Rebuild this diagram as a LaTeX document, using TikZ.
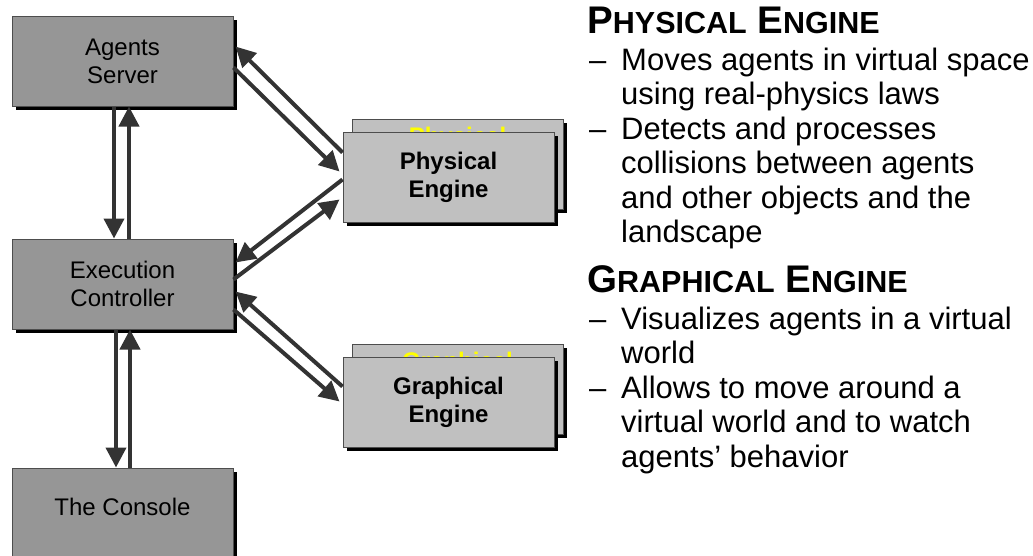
\documentclass[tikz,border=0pt]{standalone}
\usepackage{fontspec}
\setmainfont{Liberation Sans}
\usetikzlibrary{arrows.meta,shadows,calc}
\definecolor{boxgray}{HTML}{969696}
\definecolor{enggray}{HTML}{C0C0C0}
\definecolor{edgegray}{HTML}{4D4D4D}
\definecolor{arrowgray}{HTML}{333333}
\definecolor{hidyellow}{HTML}{FFFF00}
\newcommand\hsmall[1]{{\fontsize{30.5}{34}\selectfont #1}}
\begin{document}
\begin{tikzpicture}[x=1pt,y=-1pt,
  shadowed/.style={drop shadow={shadow xshift=4pt,shadow yshift=-4pt,fill=black,opacity=1}},
  box/.style={shadowed,draw=edgegray,line width=1pt,fill=boxgray,minimum width=221pt,minimum height=90pt,inner sep=0pt,align=center,font=\fontsize{24}{28}\selectfont},
  engbox/.style={box,fill=enggray,minimum width=211pt,font=\fontsize{24}{28}\selectfont\bfseries},
  hidtxt/.style={anchor=north,inner sep=0pt,align=center,text=hidyellow,font=\fontsize{24}{28}\selectfont\bfseries},
  conn/.style={draw=arrowgray,line width=4pt,-{Triangle[length=20pt,width=20pt]},fill=arrowgray},
  head/.style={anchor=base west,inner sep=0pt,font=\fontsize{38.5}{40}\selectfont\bfseries},
  rtxt/.style={anchor=base west,inner sep=0pt,font=\fontsize{31}{34.5}\selectfont}]
\useasboundingbox (0,0) rectangle (1033,555);
\clip (0,0) rectangle (1033,555);

% left column boxes
\node[box] (as) at (122.5,61) {Agents\\Server};
\node[box] (ec) at (122.5,284) {Execution\\Controller};
\node[box,text height=47pt,text depth=43pt,minimum height=0pt] (co) at (122.5,513) {The Console};

% physical engine (stacked)
\node[engbox] (peb) at (457.5,164) {};
\node[hidtxt] (pey) at ($(peb.north)+(0,8)$) {Physical\\Engine};
\node[engbox] (pe) at (448.5,177) {Physical\\Engine};

% graphical engine (stacked)
\node[engbox] (geb) at (457.5,389) {};
\node[hidtxt] (gey) at ($(geb.north)+(0,8)$) {Graphical\\Engine};
\node[engbox] (ge) at (448.5,402) {Graphical\\Engine};

% vertical connectors
\draw[conn] ($(as.south)+(-8.5,0)$) -- ($(ec.north)+(-8.5,0)$);
\draw[conn] ($(ec.north)+(6.5,0)$) -- ($(as.south)+(6.5,0)$);
\draw[conn] ($(ec.south)+(-6.5,0)$) -- ($(co.north)+(-6.5,0)$);
\draw[conn] ($(co.north)+(7.5,0)$) -- ($(ec.south)+(7.5,0)$);

% diagonal connectors
\draw[conn] ($(pe.north west)+(0,21)$) -- ($(as.north east)+(2,31)$);
\draw[conn] ($(as.north east)+(0,52)$) -- ($(pe.north west)+(-3,40)$);
\draw[conn] ($(pe.north west)+(0,48)$) -- ($(ec.north east)+(2,24)$);
\draw[conn] ($(ec.north east)+(0,41)$) -- ($(pe.north west)+(-3,68)$);
\draw[conn] ($(ge.north west)+(0,30)$) -- ($(ec.north east)+(2,53)$);
\draw[conn] ($(ec.north east)+(0,71)$) -- ($(ge.north west)+(-3,45)$);

% right column text
\node[head] (h1) at (587,33) {P\hsmall{HYSICAL} E\hsmall{NGINE}};
\node[rtxt] (d1) at (589,70) {–};
\node[rtxt] (l1) at (621,70) {Moves agents in virtual space};
\node[rtxt] (l2) at (621,104.5) {using real-physics laws};
\node[rtxt] (d2) at (589,139) {–};
\node[rtxt] (l3) at (621,139) {Detects and processes};
\node[rtxt] (l4) at (621,173.5) {collisions between agents};
\node[rtxt] (l5) at (621,208) {and other objects and the};
\node[rtxt] (l6) at (621,242.5) {landscape};
\node[head] (h2) at (587,292) {G\hsmall{RAPHICAL} E\hsmall{NGINE}};
\node[rtxt] (d3) at (589,329) {–};
\node[rtxt] (l7) at (621,329) {Visualizes agents in a virtual};
\node[rtxt] (l8) at (621,363.5) {world};
\node[rtxt] (d4) at (589,398) {–};
\node[rtxt] (l9) at (621,398) {Allows to move around a};
\node[rtxt] (l10) at (621,432.5) {virtual world and to watch};
\node[rtxt] (l11) at (621,467) {agents’ behavior};
\end{tikzpicture}
\end{document}
